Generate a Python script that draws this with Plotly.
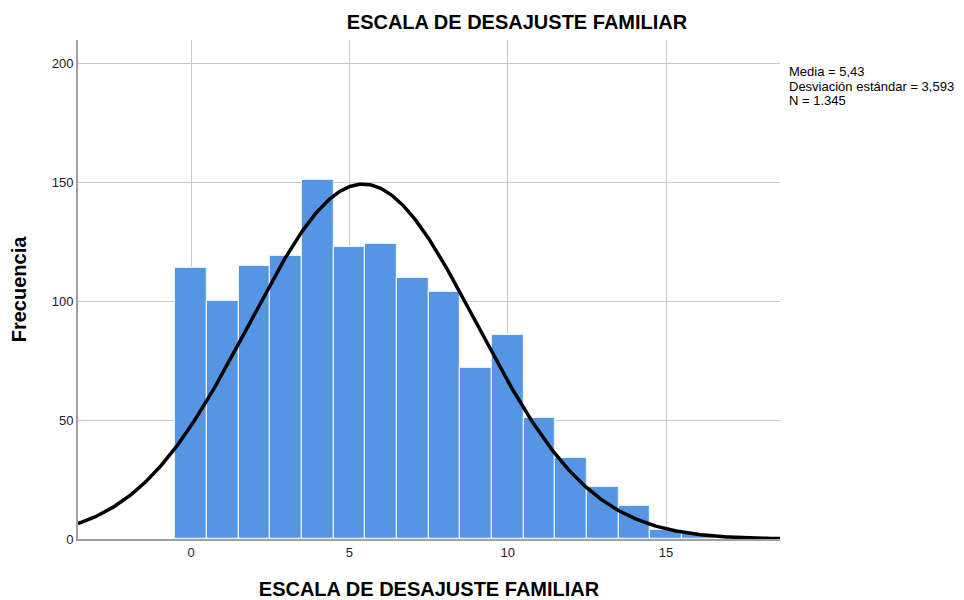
import numpy as np
import plotly.graph_objects as go

values = list(range(0, 17))
counts = [114, 100, 115, 119, 151, 123, 124, 110, 104, 72, 86, 51, 34, 22, 14, 4, 2]
mean = 5.43
sd = 3.593
n_total = 1345
x_ticks = [0, 5, 10, 15]
y_ticks = [0, 50, 100, 150, 200]
stats_lines = ["Media = 5,43", "Desviación estándar = 3,593", "N = 1.345"]
title = "ESCALA DE DESAJUSTE FAMILIAR"

x_range = [-3.57, 18.6]
xs = np.linspace(x_range[0], x_range[1], 400)
ys = n_total * 1.0 / (sd * np.sqrt(2 * np.pi)) * np.exp(-0.5 * ((xs - mean) / sd) ** 2)

fig = go.Figure()
fig.add_trace(go.Bar(
    x=values, y=counts, width=1.0,
    marker=dict(color="#5596E4", line=dict(color="#E8F0FA", width=1.2)),
    showlegend=False, hoverinfo="x+y",
))
fig.add_trace(go.Scatter(
    x=xs, y=ys, mode="lines", line=dict(color="black", width=3.5),
    showlegend=False, hoverinfo="skip",
))

W, H = 956, 592
L, R, T, B = 70, 184, 32, 61
PH = H - T - B
font = "Liberation Sans, Arial, sans-serif"

annotations = []
for i, line in enumerate(stats_lines):
    # centre of line i in page px: 72 + 14*i ; figure px = page - 8
    fy = 72 + 14 * i - 8
    annotations.append(dict(
        text=line, xref="paper", yref="paper",
        x=1.01, y=1 - (fy - T) / PH, xanchor="left", yanchor="middle",
        align="left", showarrow=False,
        font=dict(family=font, size=13, color="black"),
    ))

fig.update_layout(
    width=W, height=H,
    margin=dict(l=L, r=R, t=T, b=B, autoexpand=False),
    plot_bgcolor="white", paper_bgcolor="white",
    bargap=0,
    font=dict(family=font, size=13, color="#222222"),
    title=dict(text="<b>" + title + "</b>", x=509 / W, xanchor="center",
               xref="container", yref="container", automargin=False,
               y=1 - 14 / H, yanchor="middle",
               font=dict(family=font, size=20, color="black")),
    xaxis=dict(
        range=x_range, tickvals=x_ticks, ticktext=[str(v) for v in x_ticks],
        showgrid=True, gridcolor="#C8C8C8", gridwidth=1,
        showline=True, linecolor="#A0A0A0", linewidth=2,
        zeroline=False, ticks="", ticklen=0, automargin=False,
        tickfont=dict(family=font, size=13, color="#222222"),
        title=dict(text="<b>" + title + "</b>", standoff=32,
                   font=dict(family=font, size=20, color="black")),
    ),
    yaxis=dict(
        range=[0, 210], tickvals=y_ticks, ticktext=[str(v) for v in y_ticks],
        showgrid=True, gridcolor="#C8C8C8", gridwidth=1,
        showline=True, linecolor="#A0A0A0", linewidth=2,
        zeroline=False, ticks="", ticklen=0, automargin=False,
        tickfont=dict(family=font, size=13, color="#222222"),
        title=dict(text="<b>Frecuencia</b>", standoff=20,
                   font=dict(family=font, size=20, color="black")),
    ),
    annotations=annotations,
)

fig.write_html("out.html")
